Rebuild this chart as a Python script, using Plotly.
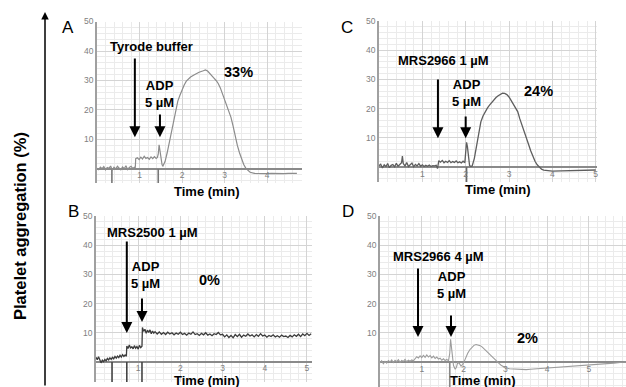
import plotly.graph_objects as go

# ---------------- data (time in min, aggregation in %) ----------------
a_t = [0.0, 0.04, 0.08, 0.12, 0.16, 0.2, 0.24, 0.28, 0.32, 0.36, 0.4, 0.44, 0.48, 0.52, 0.56, 0.6, 0.64,
       0.68, 0.72, 0.76, 0.8, 0.84, 0.88, 0.9, 0.91, 0.95, 0.99, 1.03, 1.07, 1.11, 1.15, 1.19, 1.23, 1.27,
       1.31, 1.35, 1.39, 1.42, 1.44, 1.46, 1.48, 1.5, 1.53, 1.55, 1.6, 1.65, 1.7, 1.75, 1.8, 1.85, 1.9,
       1.95, 2.0, 2.05, 2.1, 2.15, 2.2, 2.3, 2.4, 2.5, 2.55, 2.6, 2.65, 2.7, 2.75, 2.8, 2.85, 2.9, 2.95,
       3.0, 3.05, 3.1, 3.15, 3.2, 3.25, 3.3, 3.35, 3.4, 3.45, 3.5, 3.55, 3.6, 3.7, 3.8, 3.9, 4.0, 4.1,
       4.2, 4.3, 4.4, 4.5, 4.6, 4.7]
a_v = [0.3, -0.2, 0.6, 0.1, 0.8, -0.3, 0.5, 0.2, 1.0, -0.4, 0.6, 0.0, 0.9, 0.2, -0.3, 0.7, 0.1,
       1.1, -0.2, 0.5, 0.9, 0.2, 0.6, 0.4, 3.5, 3.8, 3.2, 4.0, 3.4, 4.3, 3.6, 3.9, 3.3, 4.1,
       3.5, 4.2, 3.6, 3.9, 5.0, 8.2, 6.0, 3.0, 1.4, 1.0, 2.5, 5.5, 9.0, 13.0, 17.0, 20.5, 23.0,
       25.0, 27.0, 28.5, 29.8, 30.6, 31.2, 32.0, 32.8, 33.3, 33.6, 33.2, 32.5, 31.8, 30.8, 30.0, 29.0, 27.5, 25.5,
       23.5, 21.5, 20.0, 17.5, 14.5, 11.0, 8.0, 5.5, 3.2, 1.5, 0.2, -0.6, -1.1, -1.5, -1.6, -1.5, -1.6, -1.5,
       -1.6, -1.5, -1.6, -1.5, -1.4, -1.5]

b_t = [0.0, 0.03, 0.06, 0.09, 0.12, 0.15, 0.18, 0.21, 0.24, 0.27, 0.3, 0.33, 0.36, 0.39, 0.42, 0.45, 0.48,
       0.51, 0.54, 0.57, 0.6, 0.63, 0.66, 0.69, 0.72, 0.73, 0.76, 0.79, 0.82, 0.85, 0.88, 0.91, 0.94, 0.97,
       1.0, 1.03, 1.06, 1.09, 1.1, 1.13, 1.16, 1.19, 1.22, 1.25, 1.28, 1.31, 1.34, 1.37, 1.4, 1.45, 1.5,
       1.55, 1.6, 1.65, 1.7, 1.75, 1.8, 1.85, 1.9, 1.95, 2.0, 2.05, 2.1, 2.15, 2.2, 2.25, 2.3, 2.35, 2.4,
       2.45, 2.5, 2.55, 2.6, 2.65, 2.7, 2.75, 2.8, 2.85, 2.9, 2.95, 3.0, 3.05, 3.1, 3.15, 3.2, 3.25, 3.3,
       3.35, 3.4, 3.45, 3.5, 3.55, 3.6, 3.65, 3.7, 3.75, 3.8, 3.85, 3.9, 3.95, 4.0, 4.05, 4.1, 4.15, 4.2,
       4.25, 4.3, 4.35, 4.4, 4.45, 4.5, 4.55, 4.6, 4.65, 4.7, 4.75, 4.8, 4.85, 4.9, 4.95, 5.0, 5.05, 5.1]
b_v = [1.6, 0.8, 1.8, 0.5, -0.3, 0.6, 0.1, 0.9, 0.4, 1.2, 0.7, 1.4, 0.9, 1.6, 1.1, 1.9, 1.3,
       2.0, 1.5, 2.3, 1.7, 2.5, 1.9, 2.4, 2.0, 5.5, 4.6, 5.8, 4.8, 5.2, 4.5, 5.6, 4.7, 5.3,
       4.4, 5.7, 4.9, 5.4, 11.8, 10.5, 11.2, 9.8, 10.9, 10.1, 11.0, 9.7, 10.6, 9.9, 10.4, 9.6, 10.3,
       9.5, 10.1, 9.4, 10.2, 9.6, 10.0, 9.3, 9.9, 9.5, 10.2, 9.4, 9.8, 9.2, 9.9, 9.5, 10.3, 9.4, 9.7,
       9.1, 9.8, 9.3, 10.0, 9.2, 9.6, 9.0, 9.7, 9.4, 10.1, 9.3, 9.5, 8.6, 9.3, 8.4, 9.1, 8.3, 9.4,
       8.7, 9.5, 8.5, 9.2, 8.8, 9.6, 8.9, 9.3, 8.6, 9.4, 8.8, 9.7, 8.9, 9.2, 8.5, 9.1, 8.7, 9.3,
       8.6, 9.0, 8.5, 9.2, 8.7, 8.9, 8.4, 9.1, 8.6, 9.3, 8.8, 9.5, 8.7, 9.6, 9.0, 9.8, 9.1, 9.7]

c_t = [0.0, 0.04, 0.08, 0.12, 0.16, 0.2, 0.24, 0.28, 0.32, 0.36, 0.4, 0.44, 0.48, 0.52, 0.54, 0.56, 0.6,
       0.64, 0.68, 0.72, 0.76, 0.8, 0.84, 0.88, 0.92, 0.96, 1.0, 1.04, 1.08, 1.12, 1.16, 1.2, 1.24, 1.28,
       1.32, 1.35, 1.37, 1.38, 1.42, 1.46, 1.5, 1.54, 1.58, 1.62, 1.66, 1.7, 1.74, 1.78, 1.82, 1.86, 1.9,
       1.94, 1.98, 2.0, 2.02, 2.04, 2.06, 2.09, 2.12, 2.15, 2.2, 2.25, 2.3, 2.35, 2.4, 2.45, 2.5, 2.55,
       2.6, 2.65, 2.7, 2.75, 2.8, 2.85, 2.9, 2.95, 3.0, 3.05, 3.1, 3.15, 3.2, 3.25, 3.3, 3.35, 3.4, 3.45,
       3.5, 3.55, 3.6, 3.65, 3.7, 3.75, 3.8, 3.9, 4.0, 4.2, 4.4, 4.6, 4.8, 5.0]
c_v = [0.5, 1.0, -0.3, 0.8, 0.2, 1.2, -0.2, 0.6, 0.9, 0.1, 1.3, 0.3, 0.9, 1.5, 3.8, 1.2, 0.4,
       1.6, 0.2, 1.0, 1.4, 0.1, 0.9, 0.4, 1.2, 0.3, 0.8, 0.2, 0.6, 0.3, 0.7, 0.2, 0.5, 0.4,
       0.6, -0.5, 0.8, 2.2, 1.7, 2.3, 1.5, 2.0, 1.6, 2.2, 1.5, 1.9, 1.6, 2.1, 1.5, 1.8, 1.4,
       2.0, 1.5, 4.5, 8.5, 7.0, 3.5, 0.5, 0.2, 0.4, 3.0, 7.5, 12.0, 15.5, 17.5, 19.0, 20.2, 21.2,
       22.2, 23.0, 23.8, 24.4, 24.8, 25.3, 25.2, 24.8, 24.0, 22.8, 21.5, 20.5, 19.0, 16.5, 14.5, 12.2, 10.0, 7.8,
       5.6, 3.6, 2.0, 0.8, -0.1, -0.7, -1.0, -1.3, -1.4, -1.3, -1.2, -1.3, -1.1, -1.0]

d_t = [0.0, 0.04, 0.08, 0.12, 0.16, 0.2, 0.24, 0.28, 0.32, 0.36, 0.4, 0.44, 0.48, 0.52, 0.56, 0.6, 0.64,
       0.68, 0.72, 0.76, 0.8, 0.84, 0.88, 0.92, 0.96, 1.0, 1.04, 1.08, 1.12, 1.16, 1.2, 1.24, 1.28, 1.32,
       1.36, 1.4, 1.44, 1.48, 1.52, 1.56, 1.6, 1.64, 1.67, 1.69, 1.71, 1.73, 1.76, 1.8, 1.83, 1.86, 1.9,
       1.94, 1.98, 2.02, 2.06, 2.1, 2.15, 2.2, 2.25, 2.3, 2.35, 2.4, 2.45, 2.5, 2.55, 2.6, 2.65, 2.7,
       2.75, 2.8, 2.85, 2.9, 2.95, 3.0, 3.1, 3.2, 3.3, 3.4, 3.5, 3.6, 3.7, 3.8, 3.9, 4.0, 4.2, 4.4, 4.6,
       4.8, 5.0, 5.2, 5.4, 5.6, 5.8, 5.9]
d_v = [-0.3, 0.4, -0.6, 0.2, -0.4, 0.5, 0.0, 0.7, -0.2, 0.6, 0.1, 0.8, -0.1, 0.5, 0.2, 0.9, 0.1,
       0.6, 0.3, 0.7, 0.4, 1.0, 1.8, 1.4, 2.1, 1.5, 2.3, 1.6, 2.4, 1.7, 2.2, 1.4, 2.0, 1.2,
       1.7, 1.0, 1.3, 0.6, 1.1, 0.5, 0.9, 0.4, 3.0, 7.8, 5.0, 1.5, -1.2, -2.5, -1.8, -0.2, -0.5,
       -1.4, -0.8, 0.3, 1.8, 3.0, 4.2, 5.1, 5.7, 6.0, 5.9, 5.6, 5.1, 4.4, 3.6, 2.8, 2.0, 1.3,
       0.6, 0.1, -0.5, -1.1, -1.6, -2.0, -2.3, -2.4, -2.5, -2.5, -2.6, -2.5, -2.4, -2.4, -2.2, -2.1, -1.9, -1.7, -1.5,
       -1.4, -1.2, -1.0, -0.7, -0.4, -0.1, 0.0]

# event marks drawn below the baseline (min)
a_events = [0.35, 1.44]
b_events = [0.38, 0.73, 1.09]
c_events = [2.02]
d_events = [1.67]

# annotation content
a_drug, b_drug, c_drug, d_drug = "Tyrode buffer", "MRS2500 1 µM", "MRS2966 1 µM", "MRS2966 4 µM"
a_pct, b_pct, c_pct, d_pct = "33%", "0%", "24%", "2%"
adp_label = "ADP<br>5 µM"
x_ticks_a = [1, 2, 3, 4]
x_ticks = [1, 2, 3, 4, 5]
y_ticks = [10, 20, 30, 40, 50]

# ---------------- layout geometry ----------------
W, H = 626, 387
FONT = "Liberation Sans"

panels = [
    dict(letter="A", t=a_t, v=a_v, ev=a_events, color="#8c8c8c", lw=1.2, evc="#777777",
         xd=[97, 302], yd=[21.5, 183], xr=[0, 4.82], yr=[-4.75, 50], xt=x_ticks_a,
         drug=a_drug, drug_xy=(1.29, 41.4), drug_arrow=(0.89, 38, 10.8),
         adp_xy=(1.46, 25.3), adp_arrow=(1.48, 19, 10.8), pct=a_pct, pct_xy=(3.32, 32.9),
         letter_px=(68, 28), title_px=(207, 191)),
    dict(letter="B", t=b_t, v=b_v, ev=b_events, color="#3c3c3c", lw=1.3, evc="#444444",
         xd=[96, 312], yd=[216, 382], xr=[0, 5.12], yr=[-6.85, 50], xt=x_ticks,
         drug=b_drug, drug_xy=(1.35, 44.5), drug_arrow=(0.73, 41.8, 9.9),
         adp_xy=(1.18, 29.8), adp_arrow=(1.09, 22.3, 13.7), pct=b_pct, pct_xy=(2.68, 28),
         letter_px=(73, 211), title_px=(207, 380)),
    dict(letter="C", t=c_t, v=c_v, ev=c_events, color="#5e5e5e", lw=1.3, evc="#666666",
         xd=[379, 597], yd=[21, 182], xr=[0, 5.03], yr=[-5.1, 50], xt=x_ticks,
         drug=c_drug, drug_xy=(1.48, 36.6), drug_arrow=(1.36, 30.5, 9.9),
         adp_xy=(2.03, 25.5), adp_arrow=(2.0, 17.8, 9.9), pct=c_pct, pct_xy=(3.67, 26),
         letter_px=(347, 27), title_px=(498, 189)),
    dict(letter="D", t=d_t, v=d_v, ev=d_events, color="#9c9c9c", lw=1.1, evc="#888888",
         xd=[380, 626], yd=[216, 387], xr=[0, 5.89], yr=[-8.56, 50], xt=x_ticks,
         drug=d_drug, drug_xy=(1.41, 36.3), drug_arrow=(0.91, 32.5, 8.6),
         adp_xy=(1.72, 26.5), adp_arrow=(1.70, 16.4, 8.6), pct=d_pct, pct_xy=(3.54, 8.2),
         letter_px=(348, 211), title_px=(483, 380)),
]

fig = go.Figure()
annotations = []
layout = {}

for i, p in enumerate(panels, start=1):
    xn = "x" if i == 1 else f"x{i}"
    yn = "y" if i == 1 else f"y{i}"
    xk = "xaxis" if i == 1 else f"xaxis{i}"
    yk = "yaxis" if i == 1 else f"yaxis{i}"

    # event marks below the baseline
    ex, ey = [], []
    for e in p["ev"]:
        ex += [e, e, None]
        ey += [0, p["yr"][0], None]
    fig.add_trace(go.Scatter(x=ex, y=ey, mode="lines", xaxis=xn, yaxis=yn,
                             line=dict(color=p["evc"], width=1.6), hoverinfo="skip", showlegend=False))
    # trace
    fig.add_trace(go.Scatter(x=p["t"], y=p["v"], mode="lines", xaxis=xn, yaxis=yn,
                             line=dict(color=p["color"], width=p["lw"]), showlegend=False))

    xdom = [p["xd"][0] / W, min(1.0, p["xd"][1] / W)]
    ydom = [max(0.0, 1 - p["yd"][1] / H), 1 - p["yd"][0] / H]
    zero_pos = ydom[0] + (0 - p["yr"][0]) / (p["yr"][1] - p["yr"][0]) * (ydom[1] - ydom[0])

    layout[xk] = dict(domain=xdom, range=p["xr"], anchor="free", position=zero_pos, automargin=False,
                      tickmode="array", tickvals=p["xt"], ticks="", showline=False, zeroline=False,
                      showgrid=True, gridcolor="#d4d4d4", gridwidth=1,
                      minor=dict(tickmode="linear", tick0=0, dtick=0.2, showgrid=True,
                                 gridcolor="#ebebeb", gridwidth=1),
                      tickfont=dict(family=FONT, size=8.5, color="#808080"), fixedrange=True)
    layout[yk] = dict(domain=ydom, range=p["yr"], anchor=xn, automargin=False,
                      tickmode="array", tickvals=y_ticks, ticks="", showline=True,
                      linecolor="#a0a0a0", linewidth=1.5,
                      zeroline=True, zerolinecolor="#8a8a8a", zerolinewidth=1.6,
                      showgrid=True, gridcolor="#d4d4d4", gridwidth=1,
                      minor=dict(tickmode="linear", tick0=0, dtick=2, showgrid=True,
                                 gridcolor="#ebebeb", gridwidth=1),
                      tickfont=dict(family=FONT, size=8.5, color="#808080"), fixedrange=True)

    bold = dict(family=FONT, size=13, color="black")
    ctr = dict(xanchor="center", yanchor="middle")
    # drug label + arrow
    annotations.append(dict(x=p["drug_xy"][0], y=p["drug_xy"][1], xref=xn, yref=yn,
                            text=f"<b>{p['drug']}</b>", showarrow=False, font=bold, **ctr))
    ax_, tail, head = p["drug_arrow"]
    annotations.append(dict(x=ax_, y=head, ax=ax_, ay=tail, xref=xn, yref=yn, axref=xn, ayref=yn,
                            text="", showarrow=True, arrowhead=2, arrowsize=1.1, arrowwidth=2,
                            arrowcolor="black", standoff=0, startstandoff=0))
    # ADP label + arrow
    annotations.append(dict(x=p["adp_xy"][0], y=p["adp_xy"][1], xref=xn, yref=yn,
                            text=f"<b>{adp_label}</b>", showarrow=False, font=bold, **ctr))
    ax_, tail, head = p["adp_arrow"]
    annotations.append(dict(x=ax_, y=head, ax=ax_, ay=tail, xref=xn, yref=yn, axref=xn, ayref=yn,
                            text="", showarrow=True, arrowhead=2, arrowsize=1.1, arrowwidth=2,
                            arrowcolor="black", standoff=0, startstandoff=0))
    # percentage
    annotations.append(dict(x=p["pct_xy"][0], y=p["pct_xy"][1], xref=xn, yref=yn,
                            text=f"<b>{p['pct']}</b>", showarrow=False,
                            font=dict(family=FONT, size=14.5, color="black"), **ctr))
    # panel letter
    annotations.append(dict(x=p["letter_px"][0] / W, y=1 - p["letter_px"][1] / H, xref="paper",
                            yref="paper", text=p["letter"], showarrow=False,
                            font=dict(family=FONT, size=17, color="black"), **ctr))
    # axis title
    annotations.append(dict(x=p["title_px"][0] / W, y=1 - p["title_px"][1] / H, xref="paper",
                            yref="paper", text="<b>Time (min)</b>", showarrow=False,
                            font=dict(family=FONT, size=13, color="black"), **ctr))

# shared y label and its arrow
annotations.append(dict(x=20 / W, y=1 - 226 / H, xref="paper", yref="paper",
                        text="<b>Platelet aggregation (%)</b>", textangle=-90, showarrow=False,
                        xanchor="center", yanchor="middle",
                        font=dict(family=FONT, size=16.5, color="black")))
annotations.append(dict(x=45 / W, y=1 - 12 / H, xref="paper", yref="paper", ax=0, ay=375,
                        text="", showarrow=True, arrowhead=2, arrowsize=1, arrowwidth=1.5,
                        arrowcolor="black", standoff=0))

fig.update_layout(width=W, height=H, margin=dict(l=0, r=0, t=0, b=0, autoexpand=False),
                  paper_bgcolor="white", plot_bgcolor="white",
                  annotations=annotations, showlegend=False, **layout)

fig.write_html("out.html", config={"displayModeBar": False},
               post_script="document.body.style.margin='0px';")
